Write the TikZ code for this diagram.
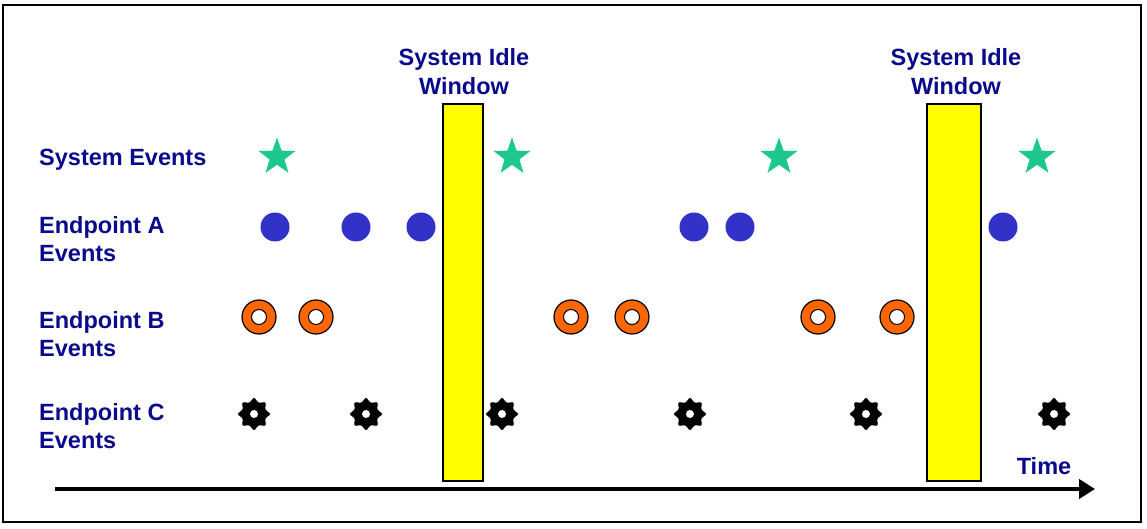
\documentclass[tikz,border=0pt]{standalone}
\usepackage{fontspec}
\setmainfont{Liberation Sans}
\usetikzlibrary{shapes.geometric,arrows.meta}
\definecolor{labblue}{RGB}{10,10,140}
\definecolor{stargreen}{RGB}{30,200,140}
\definecolor{dotblue}{RGB}{50,50,200}
\definecolor{ringorange}{RGB}{255,102,0}
\definecolor{idleyellow}{RGB}{255,255,0}
\tikzset{
  lab/.style={font=\fontsize{23.5}{28}\selectfont\bfseries, text=labblue, align=left, anchor=west, inner sep=0},
  ttl/.style={font=\fontsize{23.5}{29}\selectfont\bfseries, text=labblue, align=center, inner sep=0},
  sysev/.style={star, star points=5, star point ratio=2.5, minimum size=39pt, inner sep=0, fill=stargreen, draw=none},
  aev/.style={circle, minimum size=29pt, inner sep=0, fill=dotblue, draw=none},
  bev/.style={circle, minimum size=34pt, inner sep=0, fill=ringorange, draw=black, line width=1.2pt},
  bhole/.style={circle, minimum size=15pt, inner sep=0, fill=white, draw=black, line width=1pt},
  cev/.style={star, star points=8, star point ratio=1.5, minimum size=34pt, inner sep=0, fill=black, draw=black, rounded corners=2.5pt},
  chole/.style={circle, minimum size=8pt, inner sep=0, fill=white, draw=none},
  idlebox/.style={fill=idleyellow, draw=black, line width=1.3pt},
  timeline/.style={line width=4.5pt, -{Triangle[length=16pt, width=19pt]}}
}
\begin{document}
\begin{tikzpicture}[x=1pt,y=-1pt]
\useasboundingbox (0,0) rectangle (1147,529);
\draw[line width=1.5pt] (3,5) rectangle (1141,522);
% idle windows
\node[idlebox, minimum width=40pt, minimum height=377pt, inner sep=0] (w1) at (463,292.5) {};
\node[idlebox, minimum width=54pt, minimum height=377pt, inner sep=0] (w2) at (954,292.5) {};
\node[ttl] (t1) at (464,72) {System Idle\\Window};
\node[ttl] (t2) at (956,72) {System Idle\\Window};
% row labels
\node[lab] (ls) at (39,160) {System Events};
\node[lab] (la) at (39,239) {Endpoint A\\Events};
\node[lab] (lb) at (39,334) {Endpoint B\\Events};
\node[lab] (lc) at (39,426) {Endpoint C\\Events};
% system events
\foreach \x [count=\i] in {277,512,779,1037} \node[sysev] (s\i) at (\x,157) {};
% endpoint A
\foreach \x [count=\i] in {275,356,421,694,740,1003} \node[aev] (a\i) at (\x,227) {};
% endpoint B
\foreach \x [count=\i] in {259,316,571,632,818,897} {
  \node[bev] (b\i) at (\x,317) {};
  \node[bhole] (bh\i) at (\x,317) {};
}
% endpoint C
\foreach \x [count=\i] in {254,366,502,690,866,1054} {
  \node[cev] (c\i) at (\x,414) {};
  \node[chole] (ch\i) at (\x,414) {};
}
% time axis
\coordinate (tstart) at (55,489);
\coordinate (tend) at (1095,489);
\draw[timeline] (tstart) -- (tend);
\node[font=\fontsize{23.5}{28}\selectfont\bfseries, text=labblue, inner sep=0] (time) at (1044,466) {Time};
\end{tikzpicture}
\end{document}
